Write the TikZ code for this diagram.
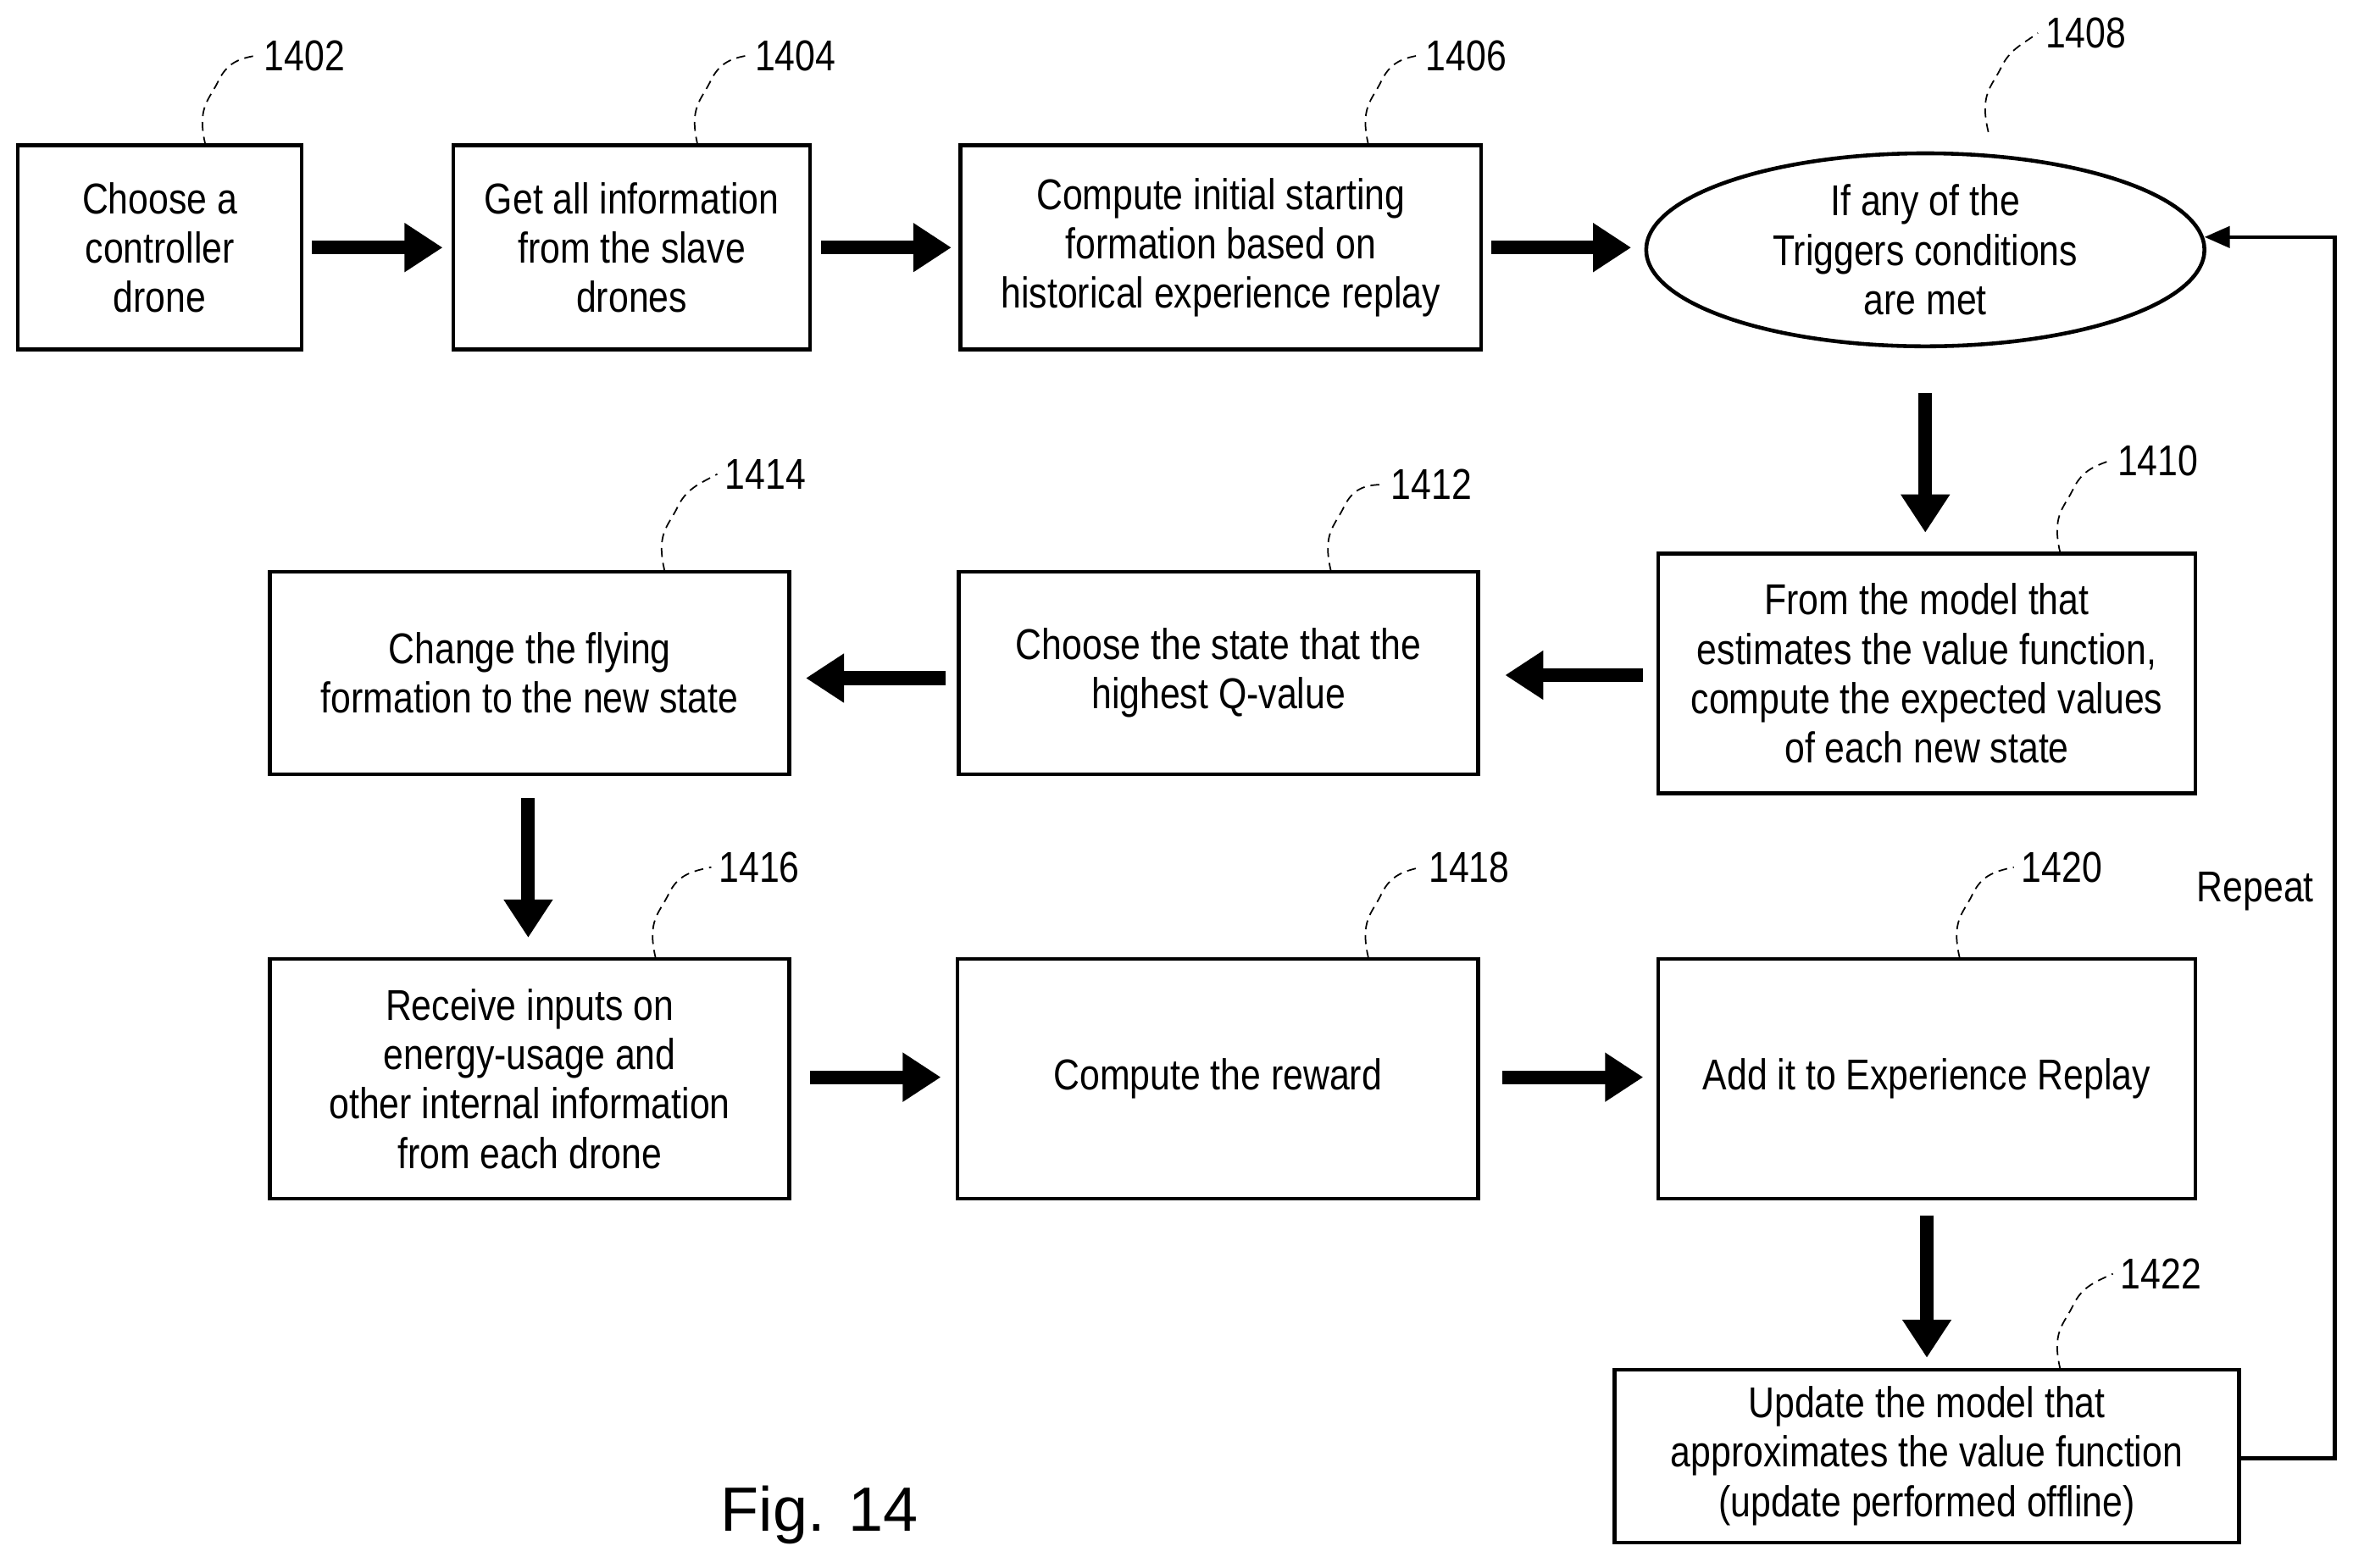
\documentclass[tikz,border=0pt]{standalone}
\usepackage{fontspec}
\setmainfont{Liberation Sans}[FakeStretch=0.84]
\newfontfamily\figfont{Liberation Sans}
\usetikzlibrary{arrows.meta,shapes.geometric}
\begin{document}
\begin{tikzpicture}[x=0.01771cm,y=-0.01771cm,
  box/.style={draw,line width=1.3pt,align=center,font=\fontsize{14.5}{16.6}\selectfont,inner sep=1pt},
  big/.style={line width=4.6pt,-{Triangle[length=0.45cm,width=0.55cm]}},
  lead/.style={densely dashed,line width=0.5pt},
  num/.style={font=\fontsize{14.5}{16.6}\selectfont}]
\useasboundingbox (0,0) rectangle (1568,1045);
\node[box,minimum width=3.35cm,minimum height=2.41cm] (a) at (106.5,165) {Choose a\\controller\\drone};
\node[box,minimum width=4.21cm,minimum height=2.41cm] (b) at (421,165) {Get all information\\from the slave\\drones};
\node[box,minimum width=6.15cm,minimum height=2.41cm] (c) at (813.5,165) {Compute initial starting\\formation based on\\historical experience replay};
\node[box,ellipse,minimum width=6.59cm,minimum height=2.18cm] (d) at (1283,166.5) {If any of the\\Triggers conditions\\are met};
\node[box,minimum width=6.34cm,minimum height=2.83cm] (e) at (1284,449) {From the model that\\estimates the value function,\\compute the expected values\\of each new state};
\node[box,minimum width=6.13cm,minimum height=2.39cm] (f) at (812,448.5) {Choose the state that the\\highest Q-value};
\node[box,minimum width=6.13cm,minimum height=2.39cm] (g) at (353,448.5) {Change the flying\\formation to the new state};
\node[box,minimum width=6.13cm,minimum height=2.83cm] (h) at (353,719) {Receive inputs on\\energy-usage and\\other internal information\\from each drone};
\node[box,minimum width=6.15cm,minimum height=2.83cm] (i) at (811.5,719) {Compute the reward};
\node[box,minimum width=6.34cm,minimum height=2.83cm] (j) at (1284,719) {Add it to Experience Replay};
\node[box,minimum width=7.37cm,minimum height=2.04cm] (k) at (1284,970.5) {Update the model that\\approximates the value function\\(update performed offline)};
% big arrows
\draw[big] (208,165) -- (295,165);
\draw[big] (547,165) -- (634,165);
\draw[big] (994,165) -- (1087,165);
\draw[big] (1283,262) -- (1283,355);
\draw[big] (1095,450) -- (1003,450);
\draw[big] (630,452) -- (537,452);
\draw[big] (352,532) -- (352,625);
\draw[big] (540,718) -- (627,718);
\draw[big] (1001,718) -- (1095,718);
\draw[big] (1284,810) -- (1284,905);
% repeat
\coordinate (r1) at (1556,972);
\coordinate (r2) at (1556,158);
\draw[line width=1.3pt,-{Triangle[length=0.3cm,width=0.25cm]}] (k.east |- r1) -- (r1) -- (r2) -- (1469,158);
\node[num] (rep) at (1503,594) {Repeat};
% labels
\foreach \n/\lx/\ly/\bx/\by in {1402/203/37/137/97,1404/530/37/465/97,1406/977/37/912/97,1408/1390/22/1325/88,1410/1438/307/1373/369,1412/954/323/887/381,1414/510/316/443/381,1416/506/578/437/639,1418/979/578/912/639,1420/1374/578/1306/639,1422/1440/849/1373/913}{
  \node[num] (L\n) at (\lx,\ly) {\n};
  \draw[lead] (\bx,\by) .. controls (\bx-6,\by-25) and (\bx+2,\by-30) .. (\bx+8,\by-42) .. controls (\bx+14,\by-55) and (\bx+22,\by-58) .. (\lx-32,\ly);
}
\node[font=\figfont\fontsize{21}{24}\selectfont] (fig) at (546,1010) {Fig. 14};
\end{tikzpicture}
\end{document}
